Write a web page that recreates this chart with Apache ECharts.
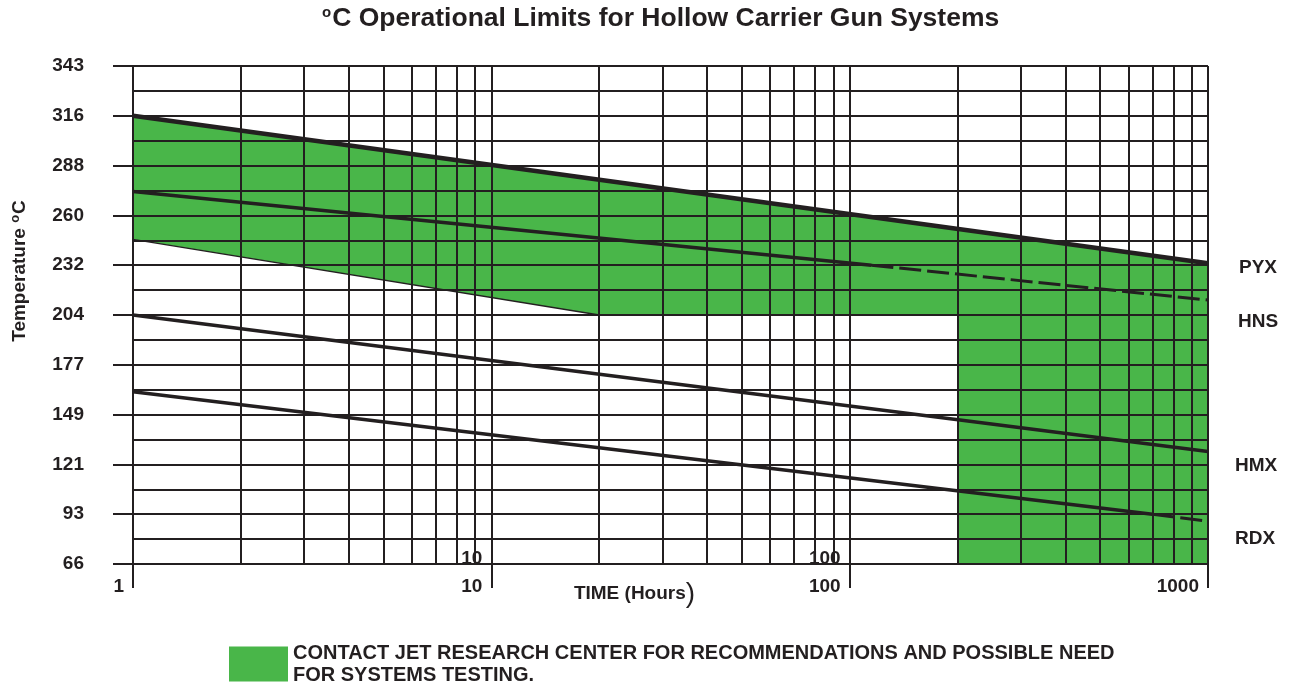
<!DOCTYPE html>
<html>
<head>
<meta charset="utf-8">
<title>Operational Limits for Hollow Carrier Gun Systems</title>
<script src="https://cdn.jsdelivr.net/npm/echarts@6.0.0/dist/echarts.min.js"></script>
<style>
  html, body { margin: 0; padding: 0; background: #fff; }
  #chart { width: 1292px; height: 683px; }
</style>
</head>
<body>
<div id="chart"></div>
<script>
// the grid is linear in °F (25 °F steps), the labels show the °C equivalents
const yTickValues = [150, 200, 250, 300, 350, 400, 450, 500, 550, 600, 650];
const yTickLabels = ['66', '93', '121', '149', '177', '204', '232', '260', '288', '316', '343'];
const xTickLabels = ['1', '10', '100', '1000'];
const xInnerLabels = ['10', '100'];
const xMinorLines = [2, 3, 4, 5, 6, 7, 8, 9, 20, 30, 40, 50, 60, 70, 80, 90,
  200, 300, 400, 500, 600, 700, 800, 900];

// [hours, °F]
const pyx = [[1, 600], [1000, 452]];
const hnsSolid = [[1, 524], [115, 450]];
const hnsDashed = [[115, 450], [1000, 415]];
const hmx = [[1, 400], [1000, 263]];
const rdxSolid = [[1, 323], [700, 200]];
const rdxDashed = [[700, 200], [1000, 193]];
const greenEdge = [[1, 476], [20, 400]];
const greenZone = [[1, 600], [1000, 452], [1000, 150], [200, 150], [200, 400], [20, 400], [1, 476]];

const legendText = 'CONTACT JET RESEARCH CENTER FOR RECOMMENDATIONS AND POSSIBLE NEED\nFOR SYSTEMS TESTING.';

const INK = '#231f20';
const GREEN = '#49b649';
const FONT = '"Liberation Sans", Arial, sans-serif';

const chart = echarts.init(document.getElementById('chart'));

const gridLine = { lineStyle: { color: INK, width: 2 } };
const boldText = { color: INK, fontFamily: FONT, fontWeight: 'bold', fontSize: 19 };

function endLabel(dx, dy) {
  return {
    show: true,
    formatter: (p) => p.seriesName,
    distance: dx,
    offset: [0, dy],
    ...boldText,
  };
}

function line(name, data, width, extra) {
  return {
    name,
    type: 'line',
    data,
    symbol: 'none',
    silent: true,
    z: 3,
    lineStyle: { color: INK, width },
    ...extra,
  };
}

const xLabelFmt = (list) => (v) => {
  const s = String(Math.round(v));
  return list.includes(s) ? s : '';
};

chart.setOption({
  animation: false,
  backgroundColor: '#fff',
  title: {
    text: '{s|o}{t|C Operational Limits for Hollow Carrier Gun Systems}',
    left: 317,
    top: 0,
    textStyle: {
      rich: {
        t: { ...boldText, fontSize: 26.5 },
        s: { ...boldText, fontSize: 15, padding: [0, 1, 12, 0] },
      },
    },
  },
  legend: {
    left: 229,
    top: 629,
    padding: 0,
    itemWidth: 59,
    itemHeight: 35,
    selectedMode: false,
    data: [{ name: 'contact', icon: 'rect', itemStyle: { color: GREEN } }],
    formatter: () => legendText,
    textStyle: { ...boldText, fontSize: 20, lineHeight: 22, padding: [0, 0, 26, 0] },
  },
  grid: { left: 133, right: 84, top: 66, bottom: 119 },
  xAxis: [
    {
      type: 'log',
      logBase: 10,
      min: 1,
      max: 1000,
      z: 1,
      name: '{t|TIME (Hours}{p|)}',
      nameLocation: 'middle',
      nameGap: 30,
      nameMoveOverlap: false,
      nameTextStyle: {
        verticalAlign: 'middle',
        padding: [0, 72, 0, 0],
        rich: {
          t: { ...boldText },
          p: { color: INK, fontFamily: FONT, fontSize: 28 },
        },
      },
      axisLine: { show: true, ...gridLine },
      axisTick: { show: true, length: 24, ...gridLine },
      axisLabel: {
        ...boldText,
        formatter: xLabelFmt(xTickLabels),
        align: 'right',
        verticalAlign: 'middle',
        padding: [0, 9, 0, 0],
        margin: 23,
        showMinLabel: true,
        showMaxLabel: true,
      },
      splitLine: { show: true, ...gridLine },
    },
    {
      type: 'log',
      logBase: 10,
      min: 1,
      max: 1000,
      position: 'bottom',
      z: 1,
      axisLine: { show: false },
      axisTick: { show: false },
      splitLine: { show: false },
      axisLabel: {
        ...boldText,
        inside: true,
        formatter: xLabelFmt(xInnerLabels),
        align: 'right',
        verticalAlign: 'middle',
        padding: [0, 9, 0, 0],
        margin: 5,
      },
    },
  ],
  yAxis: {
    type: 'value',
    min: 150,
    max: 650,
    interval: 50,
    z: 1,
    name: '{b|Temperature }{s|o}{b|C}',
    nameLocation: 'middle',
    nameGap: 113,
    nameMoveOverlap: false,
    nameTextStyle: {
      verticalAlign: 'middle',
      padding: [0, 0, 0, 88],
      rich: {
        b: { ...boldText },
        s: { ...boldText, fontSize: 13, padding: [0, 1, 10, 0] },
      },
    },
    axisLine: { show: true, ...gridLine },
    axisTick: { show: true, length: 20, ...gridLine },
    axisLabel: {
      ...boldText,
      margin: 49,
      formatter: (v) => {
        const i = yTickValues.indexOf(v);
        return i < 0 ? '' : yTickLabels[i];
      },
    },
    splitLine: { show: true, ...gridLine },
    minorTick: { show: false, splitNumber: 2 },
    minorSplitLine: { show: true, ...gridLine },
  },
  series: [
    {
      name: 'contact',
      type: 'custom',
      data: greenZone,
      z: 0,
      silent: true,
      itemStyle: { color: GREEN },
      renderItem: (params, api) => {
        if (params.dataIndex !== 0) return null;
        return {
          type: 'polygon',
          shape: { points: greenZone.map((p) => api.coord(p)) },
          style: { fill: GREEN },
        };
      },
    },
    line('edge', greenEdge, 1.3, {
      markLine: {
        silent: true,
        symbol: 'none',
        label: { show: false },
        lineStyle: { color: INK, width: 2, type: 'solid' },
        data: xMinorLines.map((v) => ({ xAxis: v })),
      },
    }),
    line('PYX', pyx, 4.5, { endLabel: endLabel(31, 5) }),
    line('HNS', hnsSolid, 3.5),
    line('HNS', hnsDashed, 3, {
      lineStyle: { color: INK, width: 3, type: [22, 6] },
      endLabel: endLabel(30, 22),
    }),
    line('HMX', hmx, 3.5, { endLabel: endLabel(27, 14) }),
    line('RDX', rdxSolid, 3.5),
    line('RDX', rdxDashed, 3, {
      lineStyle: { color: INK, width: 3, type: [22, 6] },
      endLabel: endLabel(27, 18),
    }),
  ],
});
</script>
</body>
</html>
